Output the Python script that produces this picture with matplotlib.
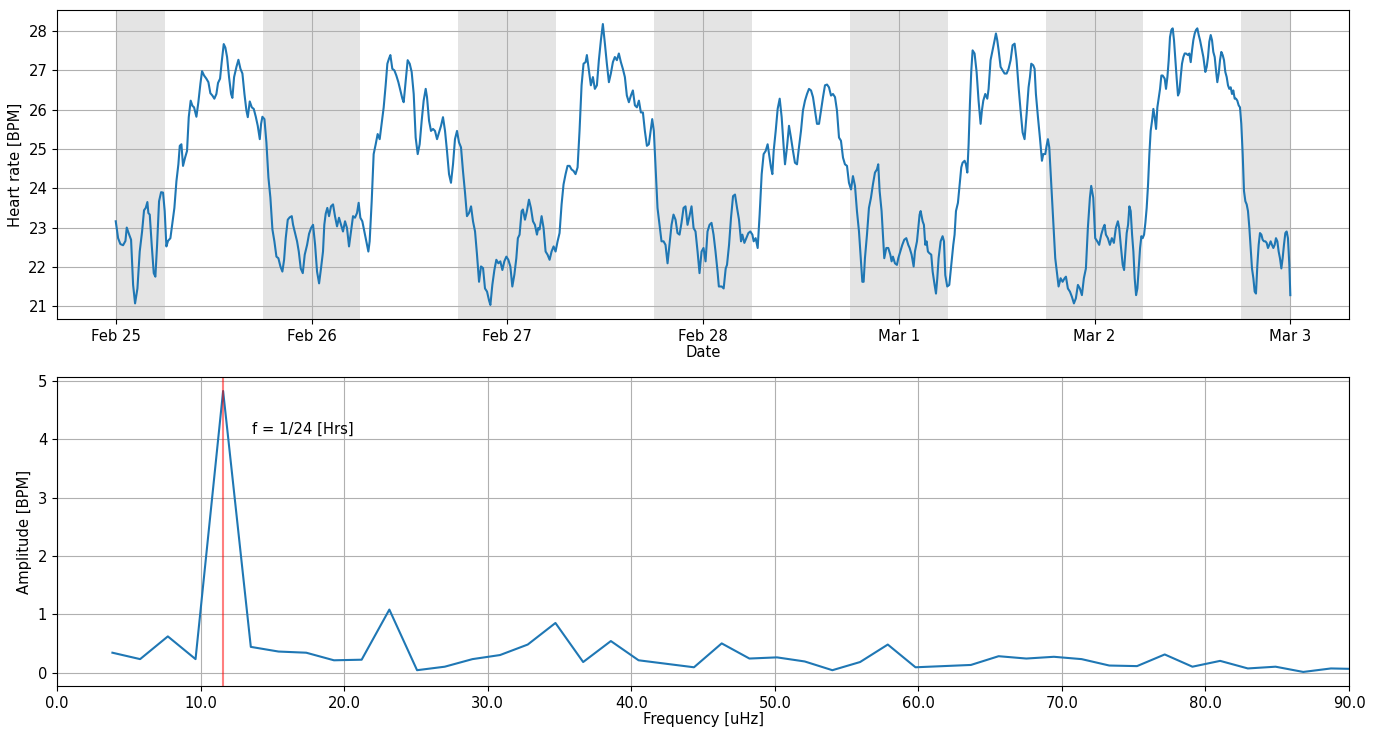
import matplotlib
matplotlib.use("Agg")
import matplotlib.pyplot as plt
import matplotlib.dates as mdates
import matplotlib.ticker as mticker
import pandas as pd

plt.rcParams["font.size"] = 10.6

# Heart rate, hours after Feb 25 00:00
hours = [
    0.00, 0.29, 0.57, 0.90, 1.19, 1.35, 1.63, 1.88, 2.13, 2.37, 2.66, 2.94, 3.23, 3.47, 3.68, 3.88,
    4.00, 4.17, 4.41, 4.66, 4.86, 5.07, 5.31, 5.56, 5.80, 6.00, 6.21, 6.41, 6.70, 6.95, 7.19, 7.44,
    7.68, 7.85, 8.05, 8.25, 8.50, 8.74, 8.95, 9.19, 9.40, 9.60, 9.89, 10.13, 10.38, 10.58, 10.83,
    11.11, 11.36, 11.60, 11.85, 12.09, 12.34, 12.54, 12.79, 12.99, 13.24, 13.44, 13.65, 13.89,
    14.14, 14.30, 14.51, 14.80, 15.04, 15.29, 15.53, 15.78, 16.02, 16.19, 16.43, 16.68, 16.92,
    17.17, 17.41, 17.66, 17.82, 17.98, 18.23, 18.47, 18.72, 18.96, 19.21, 19.45, 19.70, 19.94,
    20.19, 20.43, 20.64, 20.84, 21.09, 21.33, 21.58, 21.74, 21.99, 22.23, 22.44, 22.68, 22.93,
    23.17, 23.46, 23.70, 23.95, 24.19, 24.44, 24.68, 24.93,
    25.17, 25.41, 25.57, 25.74, 25.94, 26.15, 26.39, 26.64, 26.88, 27.13, 27.37, 27.62, 27.86,
    28.11, 28.35, 28.60, 28.84, 29.09, 29.33, 29.58, 29.78, 29.99, 30.23, 30.48, 30.72, 30.97,
    31.13, 31.38, 31.62, 31.87, 32.11, 32.36, 32.60, 32.85, 33.09, 33.30, 33.50, 33.67, 33.91,
    34.16, 34.40, 34.65, 34.89, 35.14, 35.30, 35.55, 35.79, 36.04, 36.28, 36.53, 36.77, 37.02,
    37.26, 37.51, 37.75, 38.00, 38.16, 38.41, 38.65, 38.90, 39.14, 39.39, 39.63, 39.88, 40.12,
    40.37, 40.61, 40.86, 41.10, 41.35, 41.59, 41.84, 42.08, 42.33, 42.57, 42.82, 43.06, 43.31,
    43.56, 43.80, 44.05, 44.29, 44.54, 44.78, 45.03, 45.27, 45.52, 45.76, 45.93, 46.17, 46.42,
    46.66, 46.91, 47.15, 47.40, 47.64, 47.89, 48.13, 48.38, 48.62, 48.87, 49.11, 49.30,
    49.51, 49.76, 49.92, 50.17, 50.41, 50.66, 50.90, 51.15, 51.39, 51.64, 51.80, 51.96, 52.21,
    52.45, 52.70, 52.94, 53.19, 53.43, 53.68, 53.92, 54.17, 54.41, 54.66, 54.90, 55.15, 55.39,
    55.64, 55.88, 56.13, 56.37, 56.62, 56.86, 57.11, 57.35, 57.60, 57.76, 58.01, 58.25, 58.50,
    58.74, 58.99, 59.23, 59.48, 59.72, 59.97, 60.21, 60.46, 60.70, 60.95, 61.19, 61.44, 61.68,
    61.93, 62.17, 62.42, 62.66, 62.91, 63.16, 63.40, 63.65, 63.89, 64.14, 64.38, 64.63, 64.87,
    65.12, 65.36, 65.61, 65.77, 65.97, 66.18, 66.42, 66.67, 66.91, 67.16, 67.40, 67.65, 67.89,
    68.14, 68.38, 68.63, 68.87, 69.12, 69.36, 69.61, 69.85, 70.10, 70.34, 70.59, 70.84, 71.08,
    71.33, 71.57, 71.82, 72.06, 72.31, 72.55, 72.80, 73.04, 73.29, 73.53, 73.78, 73.94,
    74.29, 74.53, 74.78, 74.94, 75.19, 75.43, 75.68, 75.92, 76.17, 76.41, 76.66, 76.82, 77.07,
    77.31, 77.56, 77.80, 78.05, 78.21, 78.45, 78.70, 78.94, 79.19, 79.43, 79.68, 79.92, 80.09,
    80.33, 80.50, 80.66, 80.91, 81.15, 81.40, 81.64, 81.89, 82.05, 82.29, 82.54, 82.78, 83.03,
    83.27, 83.52, 83.76, 84.01, 84.25, 84.50, 84.75, 84.99, 85.24, 85.48, 85.73, 85.97, 86.22,
    86.46, 86.71, 86.95, 87.20, 87.44, 87.69, 87.93, 88.18, 88.42, 88.67, 88.91, 89.16, 89.40,
    89.65, 89.89, 90.14, 90.38, 90.63, 90.87, 91.12, 91.36, 91.53, 91.69, 91.85, 92.10, 92.34,
    92.59, 92.83, 93.08, 93.32, 93.48, 93.65, 93.89, 94.06, 94.22, 94.47, 94.71, 94.96, 95.12,
    95.28, 95.53, 95.77, 95.94, 96.18, 96.43, 96.67, 96.92, 97.16, 97.33, 97.57, 97.82, 97.98,
    98.23, 98.39, 98.55,
    98.68, 98.92, 99.08, 99.25, 99.41, 99.57, 99.74, 99.98, 100.15, 100.39, 100.56, 100.72,
    100.88, 101.13, 101.37, 101.54, 101.70, 101.94, 102.19, 102.43, 102.68, 102.84, 103.01,
    103.25, 103.50, 103.66, 103.82, 104.07, 104.23, 104.40, 104.56, 104.72, 104.89, 105.05,
    105.29, 105.54, 105.78, 106.03, 106.19, 106.36, 106.60, 106.85, 107.01, 107.25, 107.50,
    107.75, 107.91, 108.07, 108.24, 108.48, 108.73, 108.97, 109.22, 109.46, 109.71, 109.95,
    110.20, 110.44, 110.69, 110.93, 111.18, 111.42, 111.67, 111.91, 112.08, 112.24, 112.48,
    112.65, 112.81, 113.06, 113.30, 113.55, 113.71, 113.96, 114.12, 114.28, 114.45, 114.69,
    114.94, 115.18, 115.43, 115.59, 115.84, 116.08, 116.33, 116.49, 116.73, 116.98, 117.22,
    117.47, 117.71, 117.96, 118.20, 118.45, 118.69, 118.94, 119.18, 119.43, 119.59, 119.84,
    120.08, 120.33, 120.57, 120.82, 121.06, 121.23, 121.39, 121.63, 121.88, 122.12, 122.37,
    122.61, 122.86, 123.02,
    123.21, 123.45, 123.62, 123.78, 123.94, 124.11, 124.27, 124.43, 124.60, 124.76, 124.92,
    125.09, 125.25, 125.41, 125.58, 125.74, 125.90, 126.07, 126.23, 126.39, 126.56, 126.72,
    126.88, 127.05, 127.21, 127.37, 127.54, 127.70, 127.86, 128.03, 128.19, 128.35, 128.60,
    128.76, 128.93, 129.09, 129.25, 129.42, 129.58, 129.74, 129.91, 130.07, 130.23, 130.40,
    130.56, 130.72, 130.89, 131.05, 131.21, 131.46, 131.62, 131.79, 131.95, 132.11, 132.28,
    132.44, 132.60, 132.77, 132.93, 133.09, 133.34, 133.58, 133.75, 133.91, 134.07, 134.24,
    134.40, 134.56, 134.73, 134.89, 135.05, 135.22, 135.38, 135.54, 135.71, 135.87, 136.03,
    136.20, 136.36, 136.52, 136.69, 136.85, 137.01, 137.18, 137.34, 137.50, 137.67, 137.83,
    137.99, 138.16, 138.32, 138.49, 138.65, 138.81, 138.98, 139.14, 139.30, 139.47, 139.63,
    139.79, 139.96, 140.12, 140.28, 140.45, 140.61, 140.77, 140.94, 141.10, 141.26, 141.43,
    141.59, 141.75, 141.92, 142.08, 142.24, 142.41, 142.57, 142.73, 142.90, 143.06, 143.22,
    143.39, 143.55, 143.71, 143.88, 144.00,
]

heart_rate = [
    23.16, 22.73, 22.58, 22.55, 22.66, 23.00, 22.83, 22.69, 21.54, 21.07, 21.45, 22.39, 22.90, 23.44, 23.50, 23.65,
    23.37, 23.33, 22.56, 21.84, 21.75, 22.56, 23.67, 23.90, 23.89, 23.42, 22.52, 22.66, 22.73, 23.12, 23.50, 24.18,
    24.61, 25.08, 25.12, 24.57, 24.78, 24.95, 25.81, 26.23, 26.10, 26.06, 25.82, 26.19, 26.66, 26.98, 26.87,
    26.79, 26.70, 26.42, 26.36, 26.28, 26.40, 26.68, 26.79, 27.21, 27.67, 27.58, 27.34, 26.83,
    26.40, 26.30, 26.83, 27.09, 27.27, 27.04, 26.92, 26.40, 25.98, 25.81, 26.21, 26.06, 26.02,
    25.82, 25.59, 25.25, 25.64, 25.82, 25.76, 25.17, 24.27, 23.76, 22.95, 22.65, 22.26, 22.22,
    22.01, 21.88, 22.18, 22.73, 23.20, 23.26, 23.29, 23.07, 22.86, 22.65, 22.39, 21.96, 21.84,
    22.31, 22.56, 22.84, 22.99, 23.07, 22.56, 21.88, 21.58,
    21.97, 22.39, 23.07, 23.35, 23.50, 23.29, 23.54, 23.59, 23.29, 23.03, 23.25, 23.07, 22.90,
    23.16, 22.99, 22.52, 22.90, 23.29, 23.25, 23.37, 23.63, 23.25, 23.16, 22.90, 22.66, 22.39,
    22.65, 23.67, 24.87, 25.12, 25.38, 25.25, 25.64, 26.06, 26.62, 27.17, 27.30, 27.39, 27.04,
    27.00, 26.87, 26.70, 26.49, 26.28, 26.19, 26.75, 27.26, 27.17, 26.96, 26.40, 25.29, 24.87,
    25.12, 25.72, 26.23, 26.53, 26.32, 25.72, 25.46, 25.51, 25.46, 25.25, 25.42, 25.59, 25.81,
    25.46, 24.95, 24.36, 24.14, 24.61, 25.25, 25.46, 25.17, 25.04, 24.44, 23.89, 23.29, 23.37,
    23.54, 23.16, 22.90, 22.31, 21.62, 22.01, 21.97, 21.45, 21.37, 21.15, 21.03, 21.54, 21.92,
    22.18, 22.09, 22.14, 21.92, 22.14, 22.26, 22.18, 22.01, 21.50, 21.80, 22.22, 22.73,
    22.82, 23.42, 23.46, 23.20, 23.42, 23.71, 23.50, 23.16, 23.07, 22.82, 22.99, 22.95, 23.29,
    22.99, 22.39, 22.31, 22.18, 22.39, 22.52, 22.39, 22.65, 22.86, 23.59, 24.10, 24.36, 24.57,
    24.57, 24.48, 24.44, 24.36, 24.53, 25.46, 26.62, 27.17, 27.21, 27.39, 27.00, 26.62, 26.83,
    26.53, 26.62, 27.26, 27.77, 28.18, 27.68, 27.17, 26.70, 26.92, 27.21, 27.34, 27.26, 27.43,
    27.21, 27.04, 26.83, 26.36, 26.19, 26.36, 26.49, 26.11, 26.06, 26.23, 25.93, 25.93, 25.46,
    25.08, 25.12, 25.51, 25.76, 25.46, 24.53, 23.50, 23.07, 22.65, 22.65, 22.56, 22.09, 22.56,
    23.07, 23.33, 23.20, 22.86, 22.82, 23.12, 23.50, 23.54, 23.07, 23.29, 23.54, 22.99, 22.90,
    22.39, 21.84, 22.39, 22.48, 22.14, 22.90, 23.07, 23.12, 22.82, 22.39, 21.88, 21.50,
    21.50, 21.45, 21.96, 22.05, 22.56, 23.25, 23.80, 23.84, 23.50, 23.20, 22.65, 22.82, 22.61,
    22.73, 22.86, 22.90, 22.82, 22.65, 22.73, 22.48, 23.33, 24.36, 24.87, 24.95, 25.12, 24.87,
    24.53, 24.36, 24.95, 25.46, 26.02, 26.28, 25.81, 25.04, 24.61, 25.04, 25.59, 25.29, 24.95,
    24.65, 24.61, 25.04, 25.46, 25.98, 26.23, 26.40, 26.53, 26.49, 26.32, 25.98, 25.64, 25.64,
    25.98, 26.32, 26.62, 26.64, 26.57, 26.36, 26.40, 26.32, 25.98, 25.29, 25.21, 24.78, 24.61,
    24.57, 24.14, 23.97, 24.31, 24.06, 23.42, 22.90, 22.14, 21.62, 21.62, 22.22, 22.82, 23.50,
    23.76, 24.10, 24.40, 24.48, 24.61, 23.93, 23.42, 22.82, 22.22, 22.48, 22.48, 22.31, 22.14,
    22.26, 22.09, 22.05, 22.22, 22.39, 22.56, 22.69, 22.73, 22.56, 22.48, 22.31, 22.01, 22.39,
    22.65, 22.99, 23.33,
    23.42, 23.16, 23.07, 22.56, 22.65, 22.39, 22.35, 22.31, 21.88, 21.54, 21.32, 21.71,
    22.22, 22.65, 22.78, 22.65, 21.79, 21.50, 21.54, 22.05, 22.56, 22.82, 23.42,
    23.63, 24.18, 24.53, 24.65, 24.70, 24.61, 24.40, 25.12, 26.15, 27.00, 27.51,
    27.43, 26.96, 26.23, 25.64, 25.98, 26.23, 26.40, 26.28, 26.53, 27.26, 27.51,
    27.77, 27.94, 27.77, 27.51, 27.09, 27.00, 26.92, 26.92, 27.04, 27.26, 27.64,
    27.68, 27.26, 26.57, 25.98, 25.42, 25.25, 25.89, 26.57, 26.83, 27.17, 27.13,
    27.04, 26.40, 25.81, 25.29, 24.70, 24.87, 24.87, 25.08, 25.25, 25.04, 24.10,
    23.07, 22.22, 21.79, 21.50, 21.71, 21.62, 21.71, 21.75, 21.45, 21.37, 21.24,
    21.07, 21.20, 21.54, 21.45, 21.28, 21.71, 21.96, 22.99, 23.76, 24.06, 23.76,
    22.73, 22.65, 22.56, 22.82, 22.99, 23.07, 22.82, 22.73, 22.56, 22.73, 22.61,
    22.99, 23.16, 22.99,
    22.56, 22.05, 21.92, 22.39, 22.86, 23.07, 23.54, 23.42, 22.82, 22.39, 21.71,
    21.28, 21.45, 21.96, 22.48, 22.78, 22.73, 22.82, 23.12, 23.50, 24.10, 24.87,
    25.46, 25.72, 26.02, 25.81, 25.51, 26.06, 26.28, 26.53, 26.87, 26.87, 26.79,
    26.53, 26.83, 27.26, 27.85, 28.03, 28.07, 27.77, 27.26, 26.79, 26.36, 26.45,
    26.83, 27.17, 27.34, 27.43, 27.43, 27.39, 27.43, 27.21, 27.51, 27.77, 27.94,
    28.03, 28.07, 27.90, 27.77, 27.60, 27.34, 26.96, 27.09, 27.34, 27.73, 27.90,
    27.77, 27.47, 27.34, 27.00, 26.70, 26.92, 27.26, 27.47, 27.39, 27.26, 26.96,
    26.83, 26.62, 26.53, 26.57, 26.40, 26.49, 26.28, 26.28, 26.23, 26.11, 26.06,
    25.64, 24.87, 23.93, 23.67, 23.59, 23.42, 22.99, 22.48, 21.96, 21.71, 21.37,
    21.32, 22.05, 22.56, 22.86, 22.82, 22.69, 22.65, 22.65, 22.61, 22.48, 22.56,
    22.65, 22.56, 22.48, 22.56, 22.73, 22.65, 22.39, 22.22, 21.96, 22.22, 22.56,
    22.86, 22.90, 22.73, 22.05, 21.28,
]

# Spectrum of the heart rate record
freq_uhz = [
    3.86, 5.79, 7.72, 9.65, 11.57, 13.50, 15.43, 17.36, 19.29, 21.22, 23.15, 25.08,
    27.01, 28.94, 30.86, 32.79, 34.72, 36.65, 38.58, 40.51, 42.44, 44.37, 46.30, 48.23,
    50.15, 52.08, 54.01, 55.94, 57.87, 59.80, 61.73, 63.66, 65.59, 67.52, 69.44, 71.37,
    73.30, 75.23, 77.16, 79.09, 81.02, 82.95, 84.88, 86.81, 88.74, 90.67,
]
amplitude = [
    0.34, 0.23, 0.62, 0.23, 4.83, 0.44, 0.36, 0.34, 0.21, 0.22, 1.08, 0.04,
    0.10, 0.23, 0.30, 0.48, 0.85, 0.18, 0.54, 0.21, 0.15, 0.09, 0.50, 0.24,
    0.26, 0.19, 0.04, 0.18, 0.48, 0.09, 0.11, 0.13, 0.28, 0.24, 0.27, 0.23,
    0.12, 0.11, 0.31, 0.10, 0.20, 0.07, 0.10, 0.01, 0.07, 0.06,
]

daily_freq_uhz = 1e6 / (24 * 3600)
start = pd.Timestamp("2019-02-25")
times = start + pd.to_timedelta(hours, unit="h")

fig = plt.figure(figsize=(13.77, 7.29), dpi=100)
ax1 = fig.add_axes([0.0414, 0.5624, 0.9383, 0.4239])
ax2 = fig.add_axes([0.0414, 0.0590, 0.9383, 0.4239])

# Night-time shading (18:00 - 06:00)
ax1.axvspan(start, start + pd.Timedelta(hours=6), color="grey", alpha=0.21, lw=0)
for d in range(6):
    s = start + pd.Timedelta(days=d, hours=18)
    e = min(s + pd.Timedelta(hours=12), start + pd.Timedelta(days=6))
    ax1.axvspan(s, e, color="grey", alpha=0.21, lw=0)

ax1.plot(times, heart_rate, color="#1f77b4", lw=1.5)
ax1.xaxis.set_major_locator(mdates.DayLocator())
ax1.xaxis.set_major_formatter(mdates.DateFormatter("%b %-d"))
ax1.set_ylabel("Heart rate [BPM]")
ax1.set_xlabel("Date", labelpad=1)
ax1.grid(True)

ax2.plot(freq_uhz, amplitude, color="#1f77b4", lw=1.5)
ax2.axvline(daily_freq_uhz, color="red", alpha=0.5, lw=1.5)
ax2.text(13.6, 4.17, "f = 1/24 [Hrs]", va="center", ha="left")
ax2.set_xlim(0, 90)
ax2.xaxis.set_major_locator(mticker.MultipleLocator(10))
ax2.xaxis.set_major_formatter(mticker.FormatStrFormatter("%.1f"))
ax2.set_xlabel("Frequency [uHz]", labelpad=1)
ax2.set_ylabel("Amplitude [BPM]")
ax2.grid(True)

fig.savefig("out.png", dpi=100)
